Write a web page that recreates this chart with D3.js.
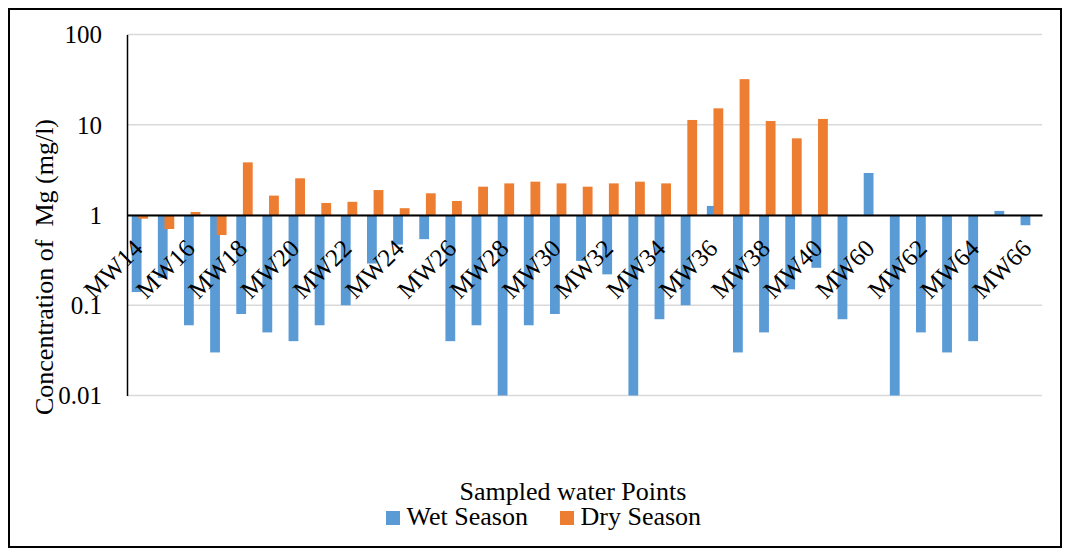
<!DOCTYPE html>
<html>
<head>
<meta charset="utf-8">
<script src="https://cdn.jsdelivr.net/npm/d3@7"></script>
<style>
  html, body { margin: 0; padding: 0; background: #fff; }
  svg { display: block; }
</style>
</head>
<body>
<svg id="chart" width="1070" height="556"></svg>
<script>
// Sampling points along the x axis
const categories = [
  "MW14","MW15","MW16","MW17","MW18","MW19","MW20","MW21","MW22","MW23",
  "MW24","MW25","MW26","MW27","MW28","MW29","MW30","MW31","MW32","MW33",
  "MW34","MW35","MW36","MW37","MW38","MW39","MW40",
  "MW59","MW60","MW61","MW62","MW63","MW64","MW65","MW66"
];

// Mg concentration (mg/l), wet season
const wetSeason = [
  0.14, 0.20, 0.06, 0.03, 0.08, 0.05, 0.04, 0.06, 0.10, 0.29,
  0.47, 0.54, 0.04, 0.06, 0.01, 0.06, 0.08, 0.31, 0.22, 0.01,
  0.07, 0.10, 1.26, 0.03, 0.05, 0.15, 0.26,
  0.07, 2.92, 0.01, 0.05, 0.03, 0.04, 1.11, 0.77
];

// Mg concentration (mg/l), dry season (no samples for MW59–MW66)
const drySeason = [
  0.91, 0.70, 1.08, 0.60, 3.83, 1.64, 2.55, 1.36, 1.40, 1.89,
  1.19, 1.74, 1.43, 2.06, 2.24, 2.34, 2.24, 2.06, 2.24, 2.34,
  2.24, 11.3, 15.2, 32.0, 11.0, 7.07, 11.6,
  null, null, null, null, null, null, null, null
];

const yTicks = [0.01, 0.1, 1, 10, 100];
const seriesNames = ["Wet Season", "Dry Season"];
const seriesColors = ["#5B9BD5", "#ED7D31"];

const FONT = "'Liberation Serif', 'Times New Roman', serif";
const svg = d3.select("#chart").style("font-family", FONT);
const W = 1070, H = 556;
const plot = { left: 127, right: 1042, top: 34.5, bottom: 395.5 };

// outer frame
svg.append("rect")
  .attr("x", 9).attr("y", 9)
  .attr("width", W - 10 - 8).attr("height", H - 10 - 8)
  .attr("fill", "none").attr("stroke", "#000").attr("stroke-width", 2);

const x = d3.scaleBand().domain(categories).range([plot.left, plot.right]);
const y = d3.scaleLog().domain([0.01, 100]).range([plot.bottom, plot.top]);
const bw = x.bandwidth();

// horizontal gridlines
svg.append("g")
  .selectAll("line")
  .data(yTicks)
  .join("line")
  .attr("x1", plot.left).attr("x2", plot.right)
  .attr("y1", d => y(d)).attr("y2", d => y(d))
  .attr("stroke", "#D9D9D9").attr("stroke-width", 1.5);

// y axis with labels
const yAxis = svg.append("g")
  .attr("transform", `translate(${plot.left},0)`)
  .call(d3.axisLeft(y).tickValues(yTicks).tickFormat(d3.format("~g")).tickSize(0).tickPadding(25));
yAxis.attr("font-family", FONT);
yAxis.select(".domain").attr("stroke", "#000").attr("stroke-width", 1.5);
yAxis.selectAll("text")
  .style("font-family", FONT)
  .style("font-size", "25px")
  .attr("fill", "#000")
  .attr("dy", "0.33em");

// bars grow from the axis crossing at 1
const base = y(1);
const barW = bw * 0.375;
const offsets = [bw * 0.18, bw * 0.433];
[wetSeason, drySeason].forEach((vals, si) => {
  svg.append("g")
    .selectAll("rect")
    .data(categories.map((c, i) => ({ c, v: vals[i] })).filter(d => d.v != null))
    .join("rect")
    .attr("x", d => x(d.c) + offsets[si])
    .attr("width", barW)
    .attr("y", d => Math.min(y(d.v), base))
    .attr("height", d => Math.abs(y(d.v) - base))
    .attr("fill", seriesColors[si]);
});

// category axis along the value 1
const xAxis = svg.append("g")
  .attr("transform", `translate(0,${base})`)
  .call(d3.axisBottom(x).tickSize(0)
    .tickFormat((d, i) => (i % 2 === 0 ? d : "")));
xAxis.attr("font-family", FONT);
xAxis.select(".domain").attr("stroke", "#000").attr("stroke-width", 2);
xAxis.selectAll("text")
  .style("font-family", FONT)
  .style("font-size", "25px")
  .attr("fill", "#000")
  .attr("x", 0).attr("y", 0).attr("dy", 0)
  .attr("text-anchor", "end")
  .attr("transform", "translate(4,35) rotate(-45)");

// y axis title
svg.append("text")
  .attr("transform", "translate(53,267) rotate(-90)")
  .attr("text-anchor", "middle")
  .style("font-family", FONT)
  .style("font-size", "26px")
  .style("white-space", "pre")
  .text("Concentration of  Mg (mg/l)");

// x axis title
svg.append("text")
  .attr("x", 573).attr("y", 500)
  .attr("text-anchor", "middle")
  .style("font-family", FONT)
  .style("font-size", "26px")
  .text("Sampled water Points");

// legend
const legendX = [386, 560];
const legend = svg.append("g");
seriesNames.forEach((name, i) => {
  legend.append("rect")
    .attr("x", legendX[i]).attr("y", 511)
    .attr("width", 14).attr("height", 14)
    .attr("fill", seriesColors[i]);
  legend.append("text")
    .attr("x", legendX[i] + 20.5).attr("y", 525)
    .style("font-family", FONT)
    .style("font-size", "26px")
    .text(name);
});
</script>
</body>
</html>
